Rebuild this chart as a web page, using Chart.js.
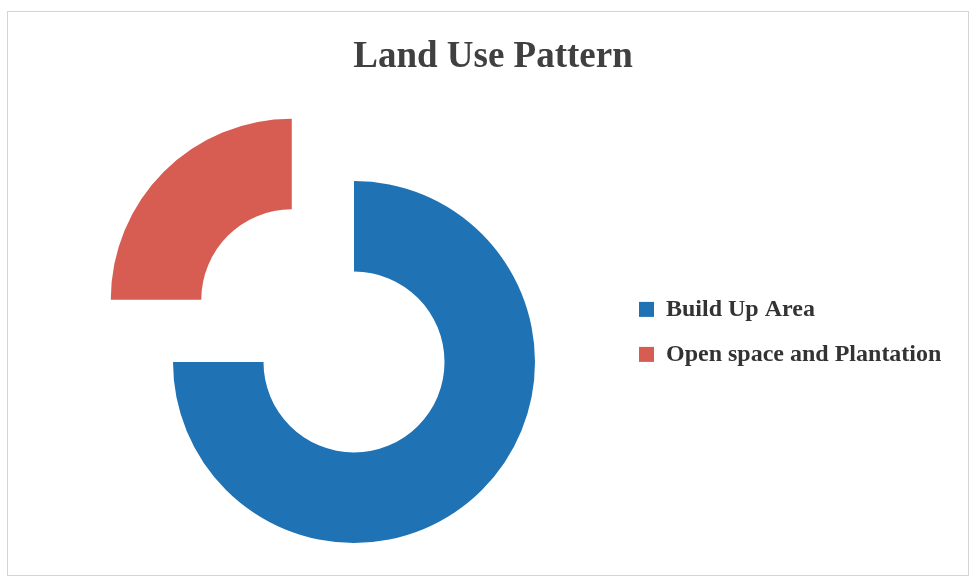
<!DOCTYPE html>
<html>
<head>
<meta charset="utf-8">
<script src="https://cdn.jsdelivr.net/npm/chart.js@4/dist/chart.umd.min.js"></script>
<style>
  html, body { margin: 0; padding: 0; background: #fff; }
  #wrap { position: relative; width: 973px; height: 581px; }
</style>
</head>
<body>
<div id="wrap"><canvas id="landChart"></canvas></div>
<script>
var labels = ["Build Up Area", "Open space and Plantation"];
var shares = [75, 25];
var sliceColors = ["#1f72b4", "#d75c51"];
var sliceOffsets = [0, 352];

// light grey frame round the whole chart
var framePlugin = {
    id: 'frame',
    beforeDraw: function(chart) {
        var c = chart.ctx;
        c.save();
        c.fillStyle = '#fff';
        c.fillRect(0, 0, chart.width, chart.height);
        c.strokeStyle = '#d4d4d4';
        c.lineWidth = 1;
        c.strokeRect(7.5, 11.5, 961, 564);
        c.restore();
    }
};

// legend box is kept narrow so the title centres like the original,
// then widened after layout so the long label is not clipped
var legendRoom = {
    id: 'legendRoom',
    afterLayout: function(chart) {
        var lg = chart.legend;
        if (!lg) return;
        lg.right = chart.width - 6;
        lg.width = lg.right - lg.left;
    }
};

var ctx = document.getElementById('landChart');
var landChart = new Chart(ctx, {
    type: 'doughnut',
    plugins: [framePlugin, legendRoom],
    data: {
        labels: labels,
        datasets: [{
            data: shares,
            backgroundColor: sliceColors,
            borderWidth: 0,
            offset: sliceOffsets
        }]
    },
    options: {
        responsive: true,
        maintainAspectRatio: false,
        animation: false,
        radius: 181,
        cutout: '50%',
        layout: {
            padding: { left: 90, right: 77, top: 0, bottom: 10 }
        },
        plugins: {
            title: {
                display: true,
                text: "Land Use Pattern",
                color: '#404040',
                font: { family: "'Liberation Serif', serif", size: 37, weight: 'bold' },
                padding: { top: 35, bottom: 73.6 }
            },
            legend: {
                position: 'right',
                align: 'start',
                fullSize: false,
                maxWidth: 278,
                title: {
                    display: true,
                    text: '',
                    font: { size: 12 },
                    padding: { top: 109, bottom: 0 }
                },
                labels: {
                    boxWidth: 15,
                    boxHeight: 15,
                    padding: 21,
                    color: '#333',
                    font: { family: "'Liberation Serif', serif", size: 24, weight: 'bold' }
                }
            },
            tooltip: { enabled: false }
        }
    }
});
</script>
</body>
</html>
